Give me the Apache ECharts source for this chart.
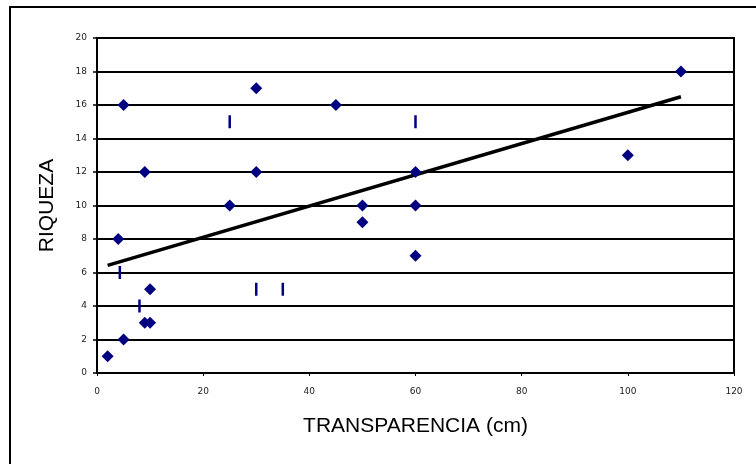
<!DOCTYPE html>
<html>
<head>
<meta charset="utf-8">
<script src="https://cdn.jsdelivr.net/npm/echarts@6/dist/echarts.min.js"></script>
<style>
  html, body { margin: 0; padding: 0; background: #fff; }
  #chart { width: 756px; height: 464px; }
</style>
</head>
<body>
<div id="chart"></div>
<script>
// Diamond series: transparency (cm) vs. richness
const diamondX = [2, 5, 9, 10, 10, 4, 9, 5, 25, 30, 30, 45, 50, 50, 60, 60, 60, 100, 110];
const diamondY = [1, 2, 3, 3, 5, 8, 12, 16, 10, 12, 17, 16, 10, 9, 12, 10, 7, 13, 18];

// Dash-marker series
const dashX = [4.3, 8, 25, 30, 35, 60];
const dashY = [6, 4, 15, 5, 5, 15];

// Axis ticks
const xTicks = [0, 20, 40, 60, 80, 100, 120];
const yTicks = [0, 2, 4, 6, 8, 10, 12, 14, 16, 18, 20];

const diamondPts = diamondX.map((x, i) => [x, diamondY[i]]);
const dashPts = dashX.map((x, i) => [x, dashY[i]]);

// Least-squares linear trend over all plotted points, drawn across the data's x-range
const allPts = diamondPts.concat(dashPts);
const n = allPts.length;
let sx = 0, sy = 0, sxy = 0, sxx = 0;
allPts.forEach(([x, y]) => { sx += x; sy += y; sxy += x * y; sxx += x * x; });
const slope = (n * sxy - sx * sy) / (n * sxx - sx * sx);
const intercept = (sy - slope * sx) / n;
const xMin = Math.min(...allPts.map(p => p[0]));
const xMax = Math.max(...allPts.map(p => p[0]));
const trendPts = [[xMin, intercept + slope * xMin], [xMax, intercept + slope * xMax]];

const tickFont = { fontFamily: 'DejaVu Sans', fontSize: 9, color: '#222' };
const nameFont = { fontFamily: 'Liberation Sans', fontSize: 21, color: '#000' };

const chart = echarts.init(document.getElementById('chart'), null, { renderer: 'canvas' });
chart.setOption({
  animation: false,
  backgroundColor: '#fff',
  grid: { left: 97, top: 38, width: 637, height: 335, show: true, borderColor: '#000', borderWidth: 2, backgroundColor: 'transparent' },
  xAxis: {
    type: 'value', min: xTicks[0], max: xTicks[xTicks.length - 1], interval: 20,
    name: 'TRANSPARENCIA (cm)', nameLocation: 'middle', nameGap: 43, nameTextStyle: nameFont,
    axisLine: { show: true, onZero: false, lineStyle: { color: '#000', width: 2 } },
    axisTick: { show: true, inside: false, length: 3, lineStyle: { color: '#000', width: 1 } },
    axisLabel: Object.assign({ margin: 14 }, tickFont),
    splitLine: { show: false }
  },
  yAxis: {
    type: 'value', min: yTicks[0], max: yTicks[yTicks.length - 1], interval: 2,
    name: 'RIQUEZA', nameLocation: 'middle', nameGap: 39, nameTextStyle: nameFont,
    axisLine: { show: true, onZero: false, lineStyle: { color: '#000', width: 2 } },
    axisTick: { show: true, inside: false, length: 4, lineStyle: { color: '#000', width: 1.5 } },
    axisLabel: Object.assign({ margin: 10 }, tickFont),
    splitLine: { show: true, lineStyle: { color: '#000', width: 2 } }
  },
  graphic: [{
    type: 'rect', silent: true, z: -1,
    shape: { x: 10, y: 7, width: 800, height: 500 },
    style: { fill: 'none', stroke: '#000', lineWidth: 2 }
  }],
  series: [
    {
      type: 'line', data: trendPts, showSymbol: false, symbol: 'none', z: 3,
      lineStyle: { color: '#000', width: 3.5 }
    },
    {
      type: 'scatter', data: diamondPts, symbol: 'diamond', symbolSize: 12, z: 4,
      itemStyle: { color: '#000080', opacity: 1 }
    },
    {
      type: 'scatter', data: dashPts, symbol: 'rect', symbolSize: [2.5, 13], z: 4,
      itemStyle: { color: '#000080', opacity: 1 }
    }
  ]
});
</script>
</body>
</html>
